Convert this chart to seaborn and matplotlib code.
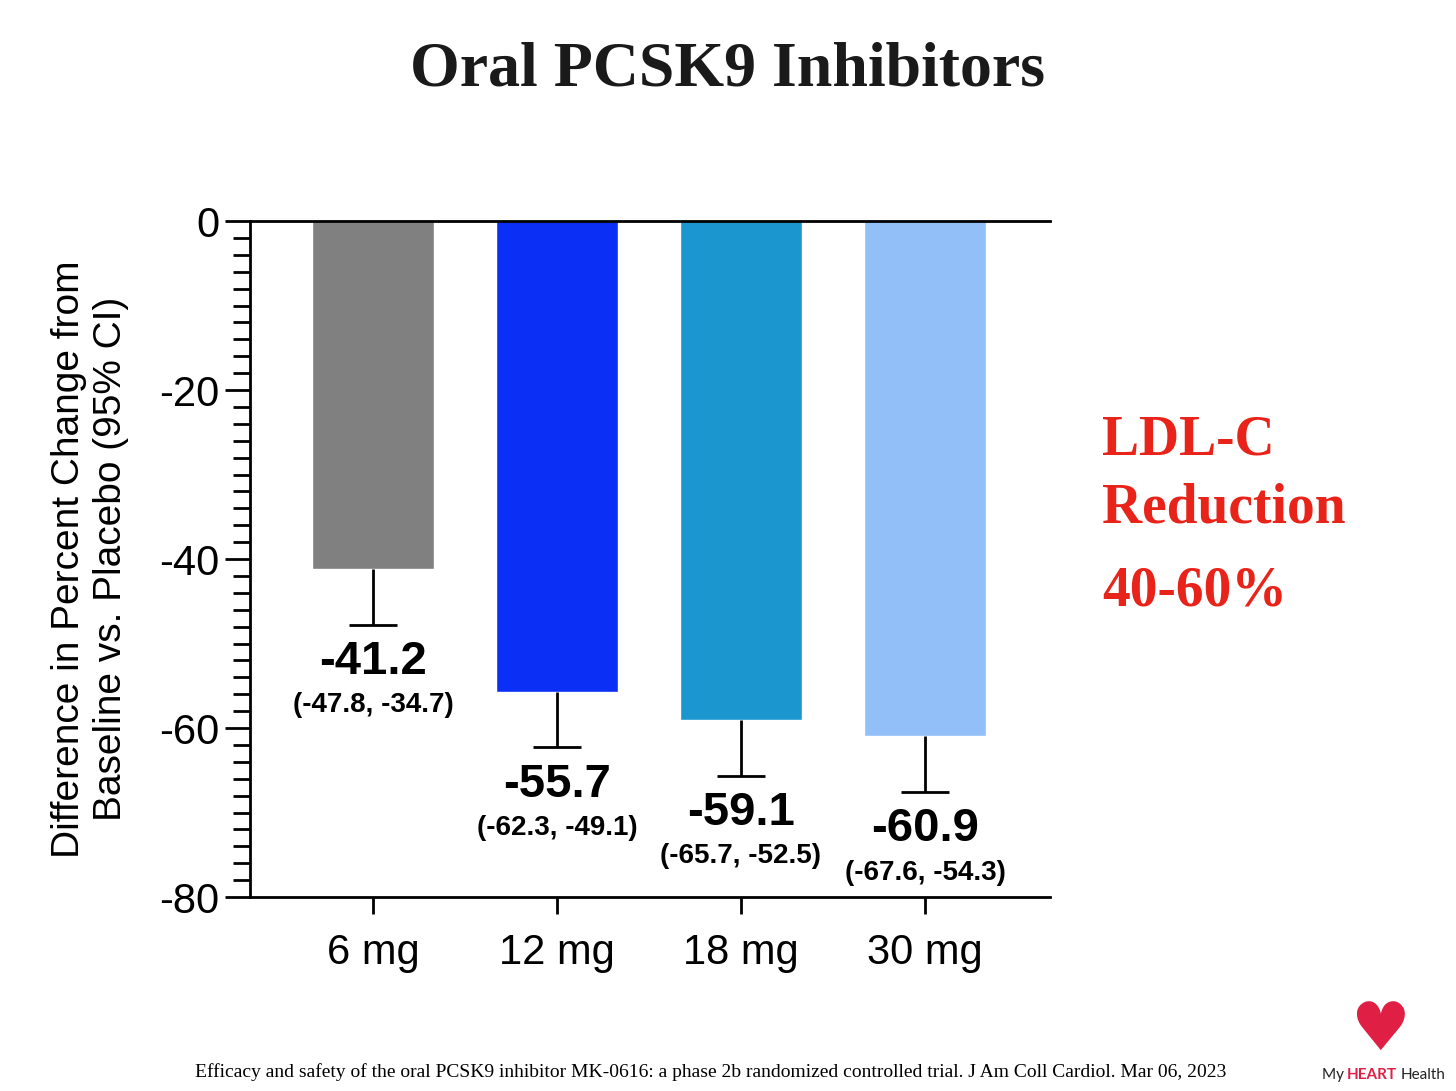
import matplotlib
matplotlib.use("Agg")
import matplotlib.pyplot as plt
import seaborn as sns
import pandas as pd
import numpy as np

doses = ["6 mg", "12 mg", "18 mg", "30 mg"]
means = [-41.2, -55.7, -59.1, -60.9]
ci_low = [-47.8, -62.3, -65.7, -67.6]
ci_high = [-34.7, -49.1, -52.5, -54.3]
colors = ["#808080", "#0c2ff5", "#1b96cf", "#92bff7"]
yticks = [0, -20, -40, -60, -80]

sns.set_theme(style="white")
plt.rcParams['font.family'] = ['Liberation Sans', 'DejaVu Sans']
plt.rcParams['axes.unicode_minus'] = False
plt.rcParams['text.color'] = 'black'
plt.rcParams['axes.labelcolor'] = 'black'
plt.rcParams['xtick.color'] = 'black'
plt.rcParams['ytick.color'] = 'black'

fig = plt.figure(figsize=(14.56, 10.91), dpi=100)
ax = fig.add_axes([0.1717, 0.1778, 0.5495, 0.6196])
df = pd.DataFrame({"dose": doses, "mean": means})
sns.barplot(data=df, x="dose", y="mean", hue="dose", palette=colors, order=doses,
            legend=False, width=0.665, ax=ax, errorbar=None, saturation=1)
x = np.arange(len(doses))
ax.vlines(x, means, ci_low, color="black", lw=2)
ax.hlines(ci_low, x - 0.13, x + 0.13, color="black", lw=2)
for i in range(len(doses)):
    ax.text(i, ci_low[i] - 4.4, f"{means[i]:.1f}", ha="center", va="center",
            fontsize=34, fontweight="bold", color="black")
    ax.text(i, ci_low[i] - 9.5, f"({ci_low[i]:.1f}, {ci_high[i]:.1f})", ha="center",
            va="center", fontsize=20, fontweight="bold", color="black")

ax.set_xlim(-0.668, 3.68)
ax.set_ylim(-80, 0)
ax.set_yticks(yticks)
ax.set_yticks(np.arange(-78, 0, 2), minor=True)
ax.tick_params(axis="y", which="major", length=18, width=2, direction="out", labelsize=30, left=True, pad=4)
ax.tick_params(axis="y", which="minor", length=12, width=2, direction="out", left=True)
ax.tick_params(axis="x", which="major", length=12, width=2, direction="out", labelsize=30, bottom=True, pad=14)
for s in ["left", "bottom", "top"]:
    ax.spines[s].set_visible(True)
    ax.spines[s].set_color("black")
    ax.spines[s].set_linewidth(2)
ax.spines["right"].set_visible(False)
ax.set_xlabel("")
ax.set_ylabel("Difference in Percent Change from\nBaseline vs. Placebo (95% CI)", fontsize=28, labelpad=22)

fig.text(0.5, 0.935, "Oral PCSK9 Inhibitors", ha="center", va="center", fontsize=46,
         fontweight="bold", family="Liberation Serif", color="#1a1a1a")
red = "#e8231a"
fig.text(0.757, 0.596, "LDL-C", fontsize=40, fontweight="bold", family="Liberation Serif", color=red, va="center")
fig.text(0.757, 0.534, "Reduction", fontsize=40, fontweight="bold", family="Liberation Serif", color=red, va="center")
fig.text(0.757, 0.458, "40-60%", fontsize=40, fontweight="bold", family="Liberation Serif", color=red, va="center")
fig.text(0.488, 0.017, "Efficacy and safety of the oral PCSK9 inhibitor MK-0616: a phase 2b randomized controlled trial. J Am Coll Cardiol. Mar 06, 2023",
         ha="center", va="center", fontsize=14, family="Liberation Serif")
fig.text(0.948, 0.055, "\u2665", ha="center", va="center", fontsize=48, color="#e01f45", family="DejaVu Sans")
fig.text(0.908, 0.015, "My ", ha="left", va="center", fontsize=11, color="#222222", family="Lato")
fig.text(0.925, 0.015, "HEART", ha="left", va="center", fontsize=11, color="#e01f45", fontweight="bold", family="Lato")
fig.text(0.962, 0.015, "Health", ha="left", va="center", fontsize=11, color="#222222", family="Lato")
fig.savefig("out.png", dpi=100, facecolor="white")
